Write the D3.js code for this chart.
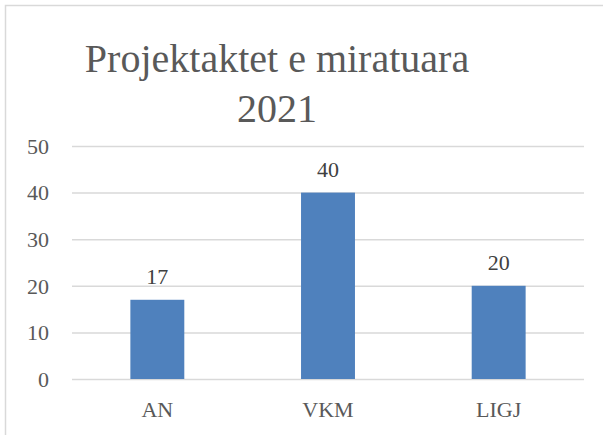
<!DOCTYPE html>
<html>
  <head>
    <meta charset="utf-8">
    <title>Projektaktet e miratuara 2021</title>
    <script src="https://d3js.org/d3.v7.min.js"></script>
    <style>
      body { margin: 0; background: #fff; }
      svg { display: block; font-family: "Liberation Serif", Cambria, serif; }
      .grid line { stroke: #d9d9d9; stroke-width: 1.5; }
      .tick-label { fill: #595959; font-size: 22px; }
      .value-label { fill: #404040; font-size: 22px; }
      .title { fill: #595959; font-size: 40px; }
    </style>
  </head>
  <body>
    <svg id="chart" width="603" height="435"></svg>
    <script>
      // data
      var categories = ["AN", "VKM", "LIGJ"];
      var values = [17, 40, 20];
      var yTicks = [0, 10, 20, 30, 40, 50];
      var titleLines = ["Projektaktet e miratuara", "2021"];

      var chart = d3.select("#chart");
      var margin = { top: 146, right: 19, bottom: 56, left: 72 };
      var width = 603, height = 435;

      // outer frame
      chart.append("rect")
        .attr("x", 5.5)
        .attr("y", 5.5)
        .attr("width", 700)
        .attr("height", 600)
        .attr("fill", "none")
        .attr("stroke", "#d9d9d9")
        .attr("stroke-width", 1.5);

      var x = d3.scaleBand()
        .domain(categories)
        .range([margin.left, width - margin.right])
        .paddingInner(0.684)
        .paddingOuter(0.342);
      var y = d3.scaleLinear()
        .domain([0, 50])
        .range([height - margin.bottom, margin.top]);

      // gridlines + y labels
      var yAxis = d3.axisLeft(y)
        .tickValues(yTicks)
        .tickSize(-(width - margin.left - margin.right))
        .tickPadding(23)
        .tickFormat(d3.format("d"));
      var grid = chart.append("g")
        .attr("class", "grid")
        .attr("transform", "translate(" + margin.left + ",0)")
        .call(yAxis)
        .attr("font-family", null)
        .attr("font-size", null);
      grid.select(".domain").remove();
      grid.selectAll("text")
        .attr("class", "tick-label")
        .attr("dy", "0.33em");

      // bars
      chart.append("g")
        .selectAll("rect")
        .data(values)
        .join("rect")
          .attr("x", function(d, i) { return x(categories[i]); })
          .attr("y", function(d) { return y(d); })
          .attr("width", x.bandwidth())
          .attr("height", function(d) { return y(0) - y(d); })
          .attr("fill", "#4f81bd");

      // value labels
      chart.append("g")
        .selectAll("text")
        .data(values)
        .join("text")
          .attr("class", "value-label")
          .attr("x", function(d, i) { return x(categories[i]) + x.bandwidth() / 2; })
          .attr("y", function(d) { return y(d) - 16; })
          .attr("text-anchor", "middle")
          .text(function(d) { return d; });

      // x axis labels
      var xAxis = d3.axisBottom(x).tickSize(0).tickPadding(38);
      var xg = chart.append("g")
        .attr("transform", "translate(0," + y(0) + ")")
        .call(xAxis)
        .attr("font-family", null)
        .attr("font-size", null);
      xg.select(".domain").remove();
      xg.selectAll("text")
        .attr("class", "tick-label")
        .attr("dy", null);

      // title
      chart.append("g")
        .selectAll("text")
        .data(titleLines)
        .join("text")
          .attr("class", "title")
          .attr("x", 277)
          .attr("y", function(d, i) { return 72 + i * 50; })
          .attr("text-anchor", "middle")
          .text(function(d) { return d; });
    </script>
  </body>
</html>
